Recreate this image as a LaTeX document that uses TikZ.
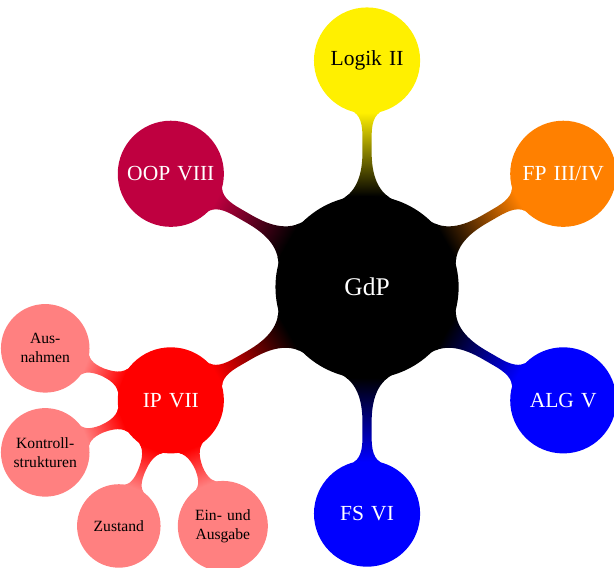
\documentclass[tikz,border=0pt]{standalone}
\usepackage{fontspec}
\setmainfont[WordSpace=0.75]{Liberation Serif}
\usepackage{tikz}
\usetikzlibrary{mindmap}
\definecolor{lectYellow}{RGB}{255,240,0}
\definecolor{lectOrange}{RGB}{255,128,0}
\definecolor{lectBlue}{RGB}{0,0,255}
\definecolor{lectRed}{RGB}{255,0,0}
\definecolor{lectPurple}{RGB}{191,0,64}
\definecolor{lectPink}{RGB}{255,128,128}
\tikzset{
    rootbox/.style={
        concept,
        concept color=black,
        text=white,
        minimum size=4cm,
        text width=3.5cm,
        align=center,
        font=\fontsize{16}{19}\selectfont
    },
    topicbox/.style={
        concept,
        text=white,
        minimum size=2.3cm,
        text width=2.1cm,
        align=center,
        font=\fontsize{13.5}{16}\selectfont
    },
    subbox/.style={
        concept,
        concept color=lectPink,
        text=black,
        minimum size=1.8cm,
        text width=1.7cm,
        align=center,
        font=\fontsize{9.8}{12}\selectfont
    }
}

\begin{document}
\begin{tikzpicture}[mindmap]
    \useasboundingbox (-8.10,-6.18) rectangle (5.45,6.335);

    \node[rootbox] (gdp) at (0,0) {GdP};

    \node[topicbox, concept color=lectYellow, text=black] (logik) at (90:5) {Logik II};
    \node[topicbox, concept color=lectOrange] (fp) at (30:5) {FP III/IV};
    \node[topicbox, concept color=lectBlue] (alg) at (-30:5) {ALG V};
    \node[topicbox, concept color=lectBlue] (fs) at (-90:5) {FS VI};
    \node[topicbox, concept color=lectRed] (ip) at (-150:5) {IP VII};
    \node[topicbox, concept color=lectPurple] (oop) at (150:5) {OOP VIII};

    \node[subbox] (ausnahmen) at ([shift={(157.5:3)}]ip) {Aus-\\nahmen};
    \node[subbox] (kontroll) at ([shift={(202.5:3)}]ip) {Kontroll-\\strukturen};
    \node[subbox] (zustand) at ([shift={(247.5:3)}]ip) {Zustand};
    \node[subbox] (einaus) at ([shift={(292.5:3)}]ip) {Ein- und\\Ausgabe};

    \path (gdp) to[circle connection bar switch color=from (black) to (lectYellow)] (logik);
    \path (gdp) to[circle connection bar switch color=from (black) to (lectOrange)] (fp);
    \path (gdp) to[circle connection bar switch color=from (black) to (lectBlue)] (alg);
    \path (gdp) to[circle connection bar switch color=from (black) to (lectBlue)] (fs);
    \path (gdp) to[circle connection bar switch color=from (black) to (lectRed)] (ip);
    \path (gdp) to[circle connection bar switch color=from (black) to (lectPurple)] (oop);

    \path (ip) to[circle connection bar switch color=from (lectRed) to (lectPink)] (ausnahmen);
    \path (ip) to[circle connection bar switch color=from (lectRed) to (lectPink)] (kontroll);
    \path (ip) to[circle connection bar switch color=from (lectRed) to (lectPink)] (zustand);
    \path (ip) to[circle connection bar switch color=from (lectRed) to (lectPink)] (einaus);
\end{tikzpicture}
\end{document}
